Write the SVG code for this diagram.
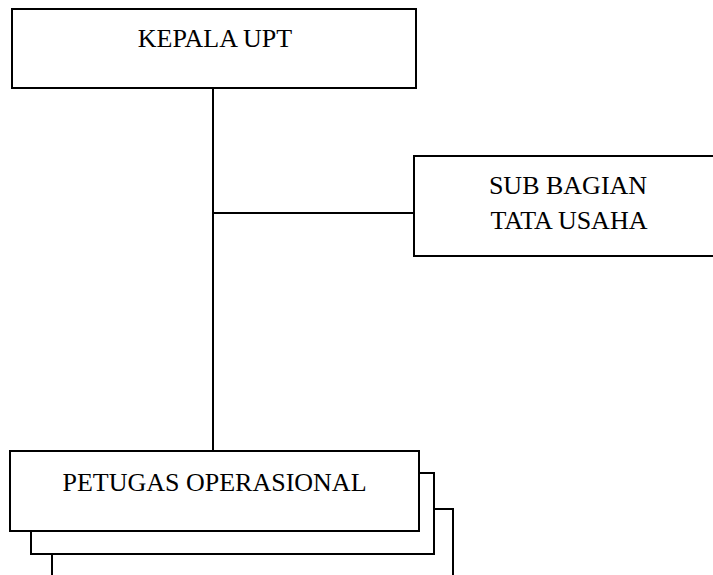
<svg xmlns="http://www.w3.org/2000/svg" width="713" height="575" viewBox="0 0 713 575">
<style>
.box{fill:#fff;stroke:#000;stroke-width:2}
.ln{fill:none;stroke:#000;stroke-width:2}
.t{font-family:"Liberation Serif","Times New Roman",serif;font-size:26px;fill:#000;text-anchor:middle}
</style>
<rect width="713" height="575" fill="#fff"/>
<g id="connectors">
<line class="ln" x1="213" y1="88" x2="213" y2="451"/>
<line class="ln" x1="213" y1="213" x2="414" y2="213"/>
</g>
<g id="kepala">
<rect class="box" x="12" y="9" width="404" height="79"/>
<text class="t" x="215" y="47">KEPALA UPT</text>
</g>
<g id="subbagian">
<rect class="box" x="414" y="156" width="310" height="100"/>
<text class="t" x="568" y="194">SUB BAGIAN</text>
<text class="t" x="569" y="229">TATA USAHA</text>
</g>
<g id="petugas">
<rect class="box" x="52" y="509" width="401" height="80"/>
<rect class="box" x="31" y="473" width="403" height="81"/>
<rect class="box" x="10" y="451" width="409" height="80"/>
<text class="t" x="214.5" y="491">PETUGAS OPERASIONAL</text>
</g>
</svg>
